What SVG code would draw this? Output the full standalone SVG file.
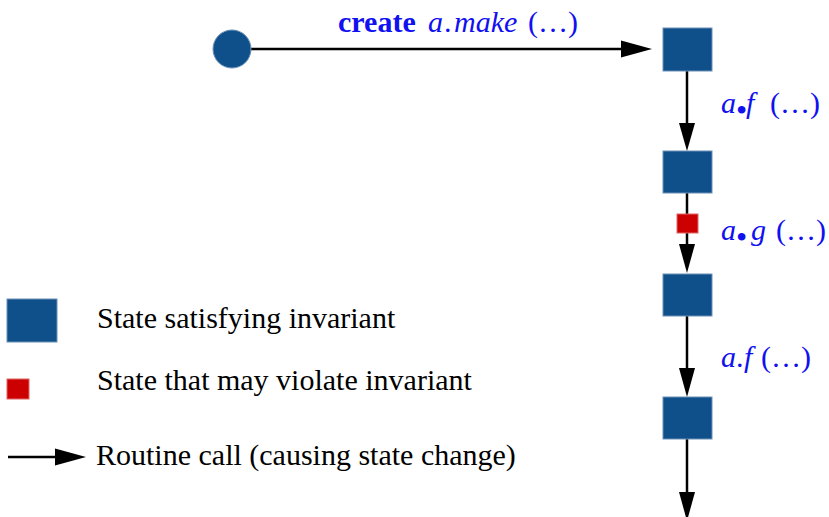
<svg xmlns="http://www.w3.org/2000/svg" width="829" height="517" viewBox="0 0 829 517">
<style>
.st{fill:#10508a;stroke:#6b90b8;stroke-width:1}
.bad{fill:#cc0000;stroke:#e06666;stroke-width:1}
.ln{stroke:#000;stroke-width:2.5;fill:none}
.ah{fill:#000}
.lbl{font-family:"Liberation Serif","Times New Roman",serif;font-size:30px;fill:#1010f0}
.it{font-style:italic}
.bd{font-weight:bold}
.bul{font-size:32px}
.leg{font-family:"Liberation Serif","Times New Roman",serif;font-size:30px;fill:#000}
</style>
<rect width="829" height="517" fill="#fff"/>
<g id="connectors">
<line class="ln" x1="251" y1="49" x2="623" y2="49"/>
<polygon class="ah" points="621,40.5 652,49 621,57.5"/>
<line class="ln" x1="687" y1="71" x2="687" y2="125"/>
<polygon class="ah" points="679,123 695,123 687,151"/>
<line class="ln" x1="687" y1="193" x2="687" y2="245"/>
<polygon class="ah" points="679,244 695,244 687,273"/>
<line class="ln" x1="687" y1="316" x2="687" y2="370"/>
<polygon class="ah" points="679,368 695,368 687,397"/>
<line class="ln" x1="687" y1="439" x2="687" y2="494"/>
<polygon class="ah" points="679,492 695,492 687,521"/>
</g>
<g id="start"><circle cx="232" cy="49" r="19" class="st"/></g>
<g id="s1"><rect class="st" x="663" y="28" width="49" height="43"/></g>
<g id="s2"><rect class="st" x="663" y="151" width="49" height="42"/></g>
<g id="mid"><rect class="bad" x="677" y="214" width="21" height="19"/></g>
<g id="s3"><rect class="st" x="663" y="274" width="49" height="42"/></g>
<g id="s4"><rect class="st" x="663" y="397" width="49" height="42"/></g>
<g id="labels">
<text class="lbl" y="32"><tspan class="bd" x="338">create</tspan><tspan class="it" x="428">a</tspan><tspan x="444">.</tspan><tspan class="it" x="454">make</tspan><tspan x="528">(…)</tspan></text>
<text class="lbl" y="113"><tspan class="it" x="721">a</tspan><tspan class="bul" x="736" dy="8">•</tspan><tspan class="it" x="746" dy="-8">f</tspan><tspan x="770">(…)</tspan></text>
<text class="lbl" y="240"><tspan class="it" x="721">a</tspan><tspan class="bul" x="736" dy="8">•</tspan><tspan class="it" x="751" dy="-8">g</tspan><tspan x="776">(…)</tspan></text>
<text class="lbl" y="367"><tspan class="it" x="721">a</tspan><tspan x="736">.</tspan><tspan class="it" x="744">f</tspan><tspan x="761">(…)</tspan></text>
</g>
<g id="legend-ok"><rect class="st" x="7" y="299" width="50" height="43"/><text class="leg" x="97" y="328">State satisfying invariant</text></g>
<g id="legend-bad"><rect class="bad" x="7" y="379" width="22" height="20"/><text class="leg" x="97" y="390">State that may violate invariant</text></g>
<g id="legend-call"><line class="ln" x1="8" y1="457" x2="57" y2="457"/><polygon class="ah" points="55,448.5 86,457 55,465.5"/><text class="leg" x="96" y="465">Routine call (causing state change)</text></g>
</svg>
